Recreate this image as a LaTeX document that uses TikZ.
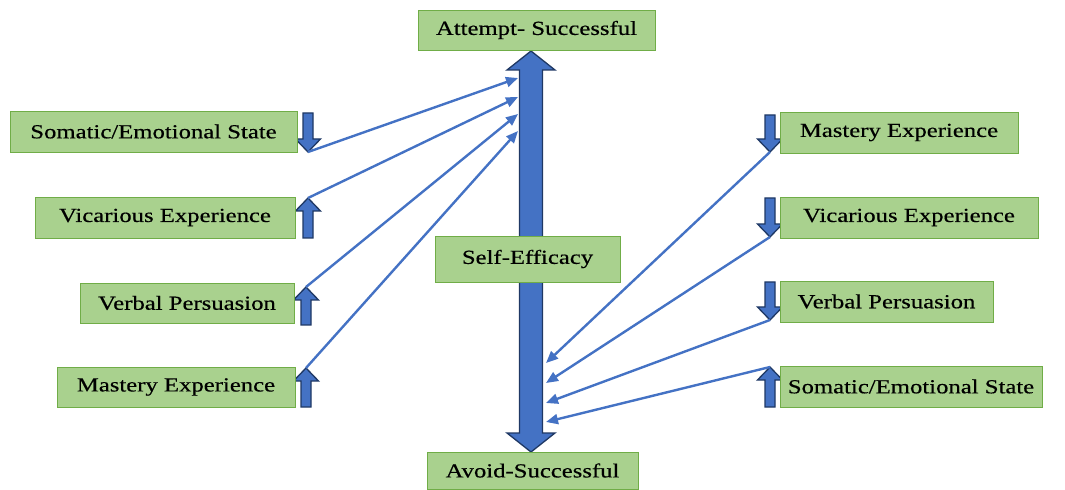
\documentclass[tikz,border=0pt]{standalone}
\usepackage{fontspec}
\setmainfont[FakeStretch=1.24,FakeBold=0.4]{Liberation Serif}
\usetikzlibrary{arrows.meta}
\definecolor{boxfill}{HTML}{A9D18E}
\definecolor{boxline}{HTML}{70AD47}
\definecolor{arrblue}{HTML}{4472C4}
\definecolor{arrline}{HTML}{1F3864}
\newcommand\dnarr[3]{\draw[fat] ({#1-5},#2) -- ({#1+5},#2) -- ({#1+5},{#3-13}) -- ({#1+12.5},{#3-13}) -- (#1,#3) -- ({#1-12.5},{#3-13}) -- ({#1-5},{#3-13}) -- cycle;}
\newcommand\uparr[3]{\draw[fat] ({#1-5},#2) -- ({#1+5},#2) -- ({#1+5},{#3+13}) -- ({#1+12.5},{#3+13}) -- (#1,#3) -- ({#1-12.5},{#3+13}) -- ({#1-5},{#3+13}) -- cycle;}
\begin{document}
\begin{tikzpicture}[x=1bp,y=-1bp,
 box/.style={draw=boxline, line width=0.9bp, fill=boxfill, inner sep=0pt, font=\fontsize{20}{24}\selectfont, text=black},
 conn/.style={draw=arrblue, line width=2.4bp, -{Triangle[length=12bp,width=10bp]}},
 fat/.style={fill=arrblue, draw=arrline, line width=1.3bp, line join=miter}]
\useasboundingbox (0,0) rectangle (1065,490);
% central double arrow
\draw[fat] (531,51) -- (555,70) -- (542.5,70) -- (542.5,433) -- (555,433) -- (531,452) -- (507,433) -- (519.5,433) -- (519.5,70) -- (507,70) -- cycle;
% small arrows left
\dnarr{308}{113}{152}
\uparr{308}{238}{198}
\uparr{306}{325}{287}
\uparr{306}{407}{368}
% small arrows right
\dnarr{770}{115}{152}
\dnarr{770}{198}{237}
\dnarr{770}{282}{320}
\uparr{770}{407}{367}
% connector endpoints
\coordinate (lsA) at (308,152);
\coordinate (lsB) at (308,198);
\coordinate (lsC) at (306,287);
\coordinate (lsD) at (306,368);
\coordinate (ltA) at (518,78);
\coordinate (ltB) at (518,97);
\coordinate (ltC) at (518,114);
\coordinate (ltD) at (518,131);
\coordinate (rsA) at (770,152);
\coordinate (rsB) at (770,237);
\coordinate (rsC) at (770,320);
\coordinate (rsD) at (770,367);
\coordinate (rtA) at (546,363);
\coordinate (rtB) at (546,383);
\coordinate (rtC) at (546,403);
\coordinate (rtD) at (546,422);
\draw[conn] (lsA) -- (ltA);
\draw[conn] (lsB) -- (ltB);
\draw[conn] (lsC) -- (ltC);
\draw[conn] (lsD) -- (ltD);
\draw[conn] (rsA) -- (rtA);
\draw[conn] (rsB) -- (rtB);
\draw[conn] (rsC) -- (rtC);
\draw[conn] (rsD) -- (rtD);
% boxes
\node[box, minimum width=237bp, minimum height=40bp] (top) at (536.5,30) {Attempt- Successful};
\node[box, minimum width=211bp, minimum height=37bp] (bot) at (532.5,470.5) {Avoid-Successful};
\node[box, minimum width=185bp, minimum height=46bp] (self) at (527.5,259) {Self-Efficacy};
\node[box, minimum width=287bp, minimum height=41bp] (l1) at (153.5,131.5) {Somatic/Emotional State};
\node[box, minimum width=260bp, minimum height=41bp] (l2) at (165,217.5) {Vicarious Experience};
\node[box, minimum width=214bp, minimum height=40bp] (l3) at (187,303) {Verbal Persuasion};
\node[box, minimum width=238bp, minimum height=40bp] (l4) at (176,387) {Mastery Experience};
\node[box, minimum width=238bp, minimum height=41bp] (r1) at (899,132.5) {Mastery Experience};
\node[box, minimum width=258bp, minimum height=41bp] (r2) at (909,217.5) {Vicarious Experience};
\node[box, minimum width=213bp, minimum height=41bp] (r3) at (886.5,301.5) {Verbal Persuasion};
\node[box, minimum width=262bp, minimum height=41bp] (r4) at (911,386.5) {Somatic/Emotional State};
\end{tikzpicture}
\end{document}
